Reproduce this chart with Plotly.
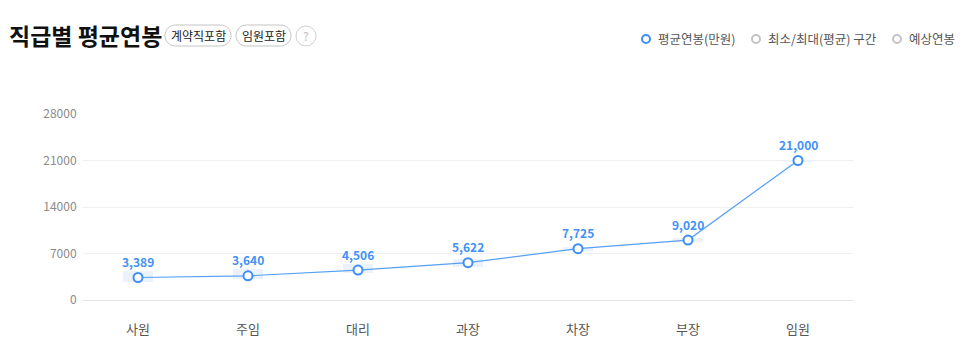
import plotly.graph_objects as go

# Data
ranks = ["사원", "주임", "대리", "과장", "차장", "부장", "임원"]
avg_salary = [3389, 3640, 4506, 5622, 7725, 9020, 21000]
range_min = [2750, 3150, 4000, 5020, 7350, 8750, 20800]
range_max = [4400, 4680, 5370, 6120, 8000, 9300, 21000]
y_ticks = [0, 7000, 14000, 21000, 28000]

W, H = 972, 341
L, R, T, B = 83, 853, 114, 300  # plot area in pixels

def px(x):
    return (x - L) / (R - L)

def py(y):
    return (B - y) / (B - T)

def pill_path(x0, x1, y0, y1):
    """Rounded (pill) rectangle given in pixel coordinates, expressed in paper units."""
    r = (y1 - y0) / 2
    k = 0.5523 * r
    pts = [
        ("M", [(x0 + r, y0)]),
        ("L", [(x1 - r, y0)]),
        ("C", [(x1 - r + k, y0), (x1, y0 + r - k), (x1, y0 + r)]),
        ("C", [(x1, y0 + r + k), (x1 - r + k, y1), (x1 - r, y1)]),
        ("L", [(x0 + r, y1)]),
        ("C", [(x0 + r - k, y1), (x0, y0 + r + k), (x0, y0 + r)]),
        ("C", [(x0, y0 + r - k), (x0 + r - k, y0), (x0 + r, y0)]),
    ]
    s = ""
    for cmd, ps in pts:
        s += cmd + " " + " ".join(f"{px(a):.5f},{py(b):.5f}" for a, b in ps) + " "
    return s + "Z"

FONT = "Noto Sans CJK KR, Noto Sans, sans-serif"
BLUE = "#3d8ef5"
LINE = "#55a0f7"

fig = go.Figure()

# min/max band per rank
fig.add_trace(go.Bar(
    x=ranks,
    y=[hi - lo for lo, hi in zip(range_min, range_max)],
    base=range_min,
    width=0.27,
    marker=dict(color="#ecf2fb", line=dict(width=0)),
    hoverinfo="skip",
))

# average salary line
fig.add_trace(go.Scatter(
    x=ranks,
    y=avg_salary,
    mode="lines+markers",
    line=dict(color=LINE, width=1.2),
    marker=dict(size=9, color="white", line=dict(color=BLUE, width=2)),
    hoverinfo="skip",
))

annotations = []
for r, v in zip(ranks, avg_salary):
    annotations.append(dict(
        x=r, y=v, xref="x", yref="y", text=f"<b>{v:,}</b>", showarrow=False,
        yshift=16, font=dict(family=FONT, size=12, color="#4391f5"),
    ))

shapes = []

# title and badges
annotations.append(dict(
    x=px(7), y=py(35), xref="paper", yref="paper", xanchor="left", yanchor="middle",
    text="<b>직급별 평균연봉</b>", showarrow=False,
    font=dict(family=FONT, size=23, color="#111"),
))
for label, x0, x1 in [("계약직포함", 165, 231), ("임원포함", 236, 291)]:
    shapes.append(dict(
        type="path", xref="paper", yref="paper", path=pill_path(x0, x1, 25, 46),
        line=dict(color="#c4c4c4", width=1), fillcolor="white", layer="above",
    ))
    annotations.append(dict(
        x=px((x0 + x1) / 2), y=py(35.5), xref="paper", yref="paper",
        text=label, showarrow=False, xanchor="center", yanchor="middle",
        font=dict(family=FONT, size=12, color="#222"),
    ))
shapes.append(dict(
    type="circle", xref="paper", yref="paper",
    x0=px(296), x1=px(316), y0=py(26), y1=py(46),
    line=dict(color="#d0d0d0", width=1), fillcolor="white",
))
annotations.append(dict(
    x=px(306), y=py(36), xref="paper", yref="paper", text="?", showarrow=False,
    xanchor="center", yanchor="middle", font=dict(family=FONT, size=12, color="#c0c0c0"),
))

# legend
legend_items = [("평균연봉(만원)", 646, BLUE), ("최소/최대(평균) 구간", 756, "#c4c4c4"), ("예상연봉", 897, "#c4c4c4")]
for label, cx, col in legend_items:
    shapes.append(dict(
        type="circle", xref="paper", yref="paper",
        x0=px(cx - 4), x1=px(cx + 4), y0=py(35), y1=py(43),
        line=dict(color=col, width=2), fillcolor="white",
    ))
    annotations.append(dict(
        x=px(cx + 10), y=py(39), xref="paper", yref="paper", text=label,
        showarrow=False, xanchor="left", yanchor="middle",
        font=dict(family=FONT, size=12.5, color="#555"),
    ))

fig.update_layout(
    width=W, height=H,
    margin=dict(l=L, r=W - R, t=T, b=H - B, pad=0),
    paper_bgcolor="white", plot_bgcolor="white",
    showlegend=False,
    bargap=0,
    annotations=annotations,
    shapes=shapes,
    font=dict(family=FONT),
    xaxis=dict(
        type="category", showgrid=False, showline=False, zeroline=False,
        ticks="outside", ticklen=17, tickcolor="rgba(0,0,0,0)",
        tickfont=dict(family=FONT, size=13, color="#555"),
        automargin=False, fixedrange=True,
    ),
    yaxis=dict(
        range=[0, 28000], tickvals=y_ticks, ticktext=[str(t) for t in y_ticks],
        showgrid=True, gridcolor="#efefef", gridwidth=1,
        zeroline=True, zerolinecolor="#e2e2e2", zerolinewidth=1,
        showline=False,
        ticks="outside", ticklen=3, tickcolor="rgba(0,0,0,0)",
        tickfont=dict(family=FONT, size=12, color="#8a8a8a"),
        automargin=False, fixedrange=True,
    ),
)

fig.write_html("out.html", config={"displayModeBar": False})
